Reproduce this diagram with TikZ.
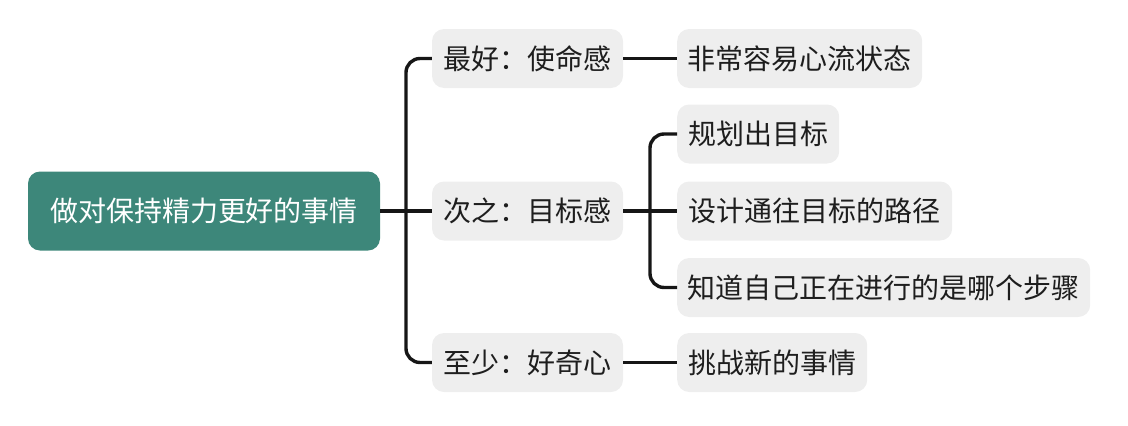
\documentclass[tikz,border=0pt]{standalone}
\usepackage{fontspec}
\setmainfont{Noto Sans CJK SC}
\definecolor{rootfill}{HTML}{3D877A}
\definecolor{boxfill}{HTML}{EEEEEE}
\definecolor{inkc}{HTML}{1E1E1E}
\definecolor{linec}{HTML}{161616}
\begin{document}
\begin{tikzpicture}[x=1pt,y=1pt,
  rootbox/.style={fill=rootfill,text=white,rounded corners=12pt,minimum height=79pt,inner sep=0pt,font=\fontsize{28}{31}\selectfont},
  lvbox/.style={fill=boxfill,text=inkc,rounded corners=12pt,minimum height=59pt,inner sep=0pt,font=\fontsize{28}{31}\selectfont},
  conn/.style={draw=linec,line width=3.4pt}
]
\useasboundingbox (0,0) rectangle (1128,-426);
\node[rootbox,minimum width=352pt] (root) at (204,-211) {做对保持精力更好的事情};
\node[lvbox,minimum width=191pt] (a) at (527.5,-58.5) {最好：使命感};
\node[lvbox,minimum width=191pt] (b) at (527.5,-211) {次之：目标感};
\node[lvbox,minimum width=191pt] (c) at (527.5,-362.5) {至少：好奇心};
\node[lvbox,minimum width=245pt,anchor=west] (a1) at (677,-58.5) {非常容易心流状态};
\node[lvbox,minimum width=162pt,anchor=west] (b1) at (677,-134) {规划出目标};
\node[lvbox,minimum width=275pt,anchor=west] (b2) at (677,-211) {设计通往目标的路径};
\node[lvbox,minimum width=413pt,anchor=west] (b3) at (677,-287.5) {知道自己正在进行的是哪个步骤};
\node[lvbox,minimum width=190pt,anchor=west] (c1) at (677,-362.5) {挑战新的事情};
\coordinate (busA) at (406,0);
\coordinate (busB) at (650,0);
\draw[conn] (root.east) -- (b.west);
\draw[conn,rounded corners=14pt] (a.west) -| (busA |- c.west) -- (c.west);
\draw[conn] (a.east) -- (a1.west);
\draw[conn] (b.east) -- (b2.west);
\draw[conn,rounded corners=14pt] (b1.west) -| (busB |- b3.west) -- (b3.west);
\draw[conn] (c.east) -- (c1.west);
\end{tikzpicture}
\end{document}
